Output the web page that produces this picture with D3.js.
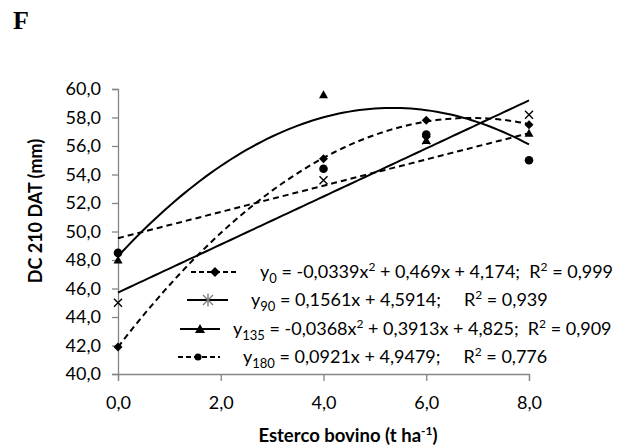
<!DOCTYPE html>
<html>
<head>
<meta charset="utf-8">
<script src="https://cdn.jsdelivr.net/npm/d3@7"></script>
<style>
  html, body { margin: 0; padding: 0; background: #fff; }
  svg { display: block; }
  text { font-family: Lato, "Open Sans", sans-serif; fill: #000; }
</style>
</head>
<body>
<svg id="chart" width="618" height="446"></svg>
<script>
// ---------- data ----------
const doses = [0, 4, 6, 8];
const y0Values   = [41.9, 55.1, 57.8, 57.5];
const y90Values  = [45.0, 53.6, 56.4, 58.2];
const y135Values = [48.0, 59.6, 56.4, 56.9];
const y180Values = [48.5, 54.4, 56.8, 55.0];

// trendline type (polynomial degree) per series, as in the chart
const trendDegrees = [2, 1, 2, 1];

const yTicks = [40, 42, 44, 46, 48, 50, 52, 54, 56, 58, 60];
const xTicks = [0, 2, 4, 6, 8];

const seriesSubs = ["0", "90", "135", "180"];
const eqParts = [
  [" = -0,0339x", "2", " + 0,469x + 4,174;  R", "2", " = 0,999"],
  [" = 0,1561x + 4,5914;     R", null, "", "2", " = 0,939"],
  [" = -0,0368x", "2", " + 0,3913x + 4,825;  R", "2", " = 0,909"],
  [" = 0,0921x + 4,9479;     R", null, "", "2", " = 0,776"]
];

// ---------- least-squares polynomial trendline ----------
function polyFit(xv, yv, deg) {
  const n = deg + 1;
  const A = Array.from({ length: n }, () => new Array(n + 1).fill(0));
  for (let r = 0; r < n; r++) {
    for (let c = 0; c < n; c++) A[r][c] = d3.sum(xv, v => Math.pow(v, r + c));
    A[r][n] = d3.sum(xv, (v, i) => yv[i] * Math.pow(v, r));
  }
  for (let i = 0; i < n; i++) {
    let p = i;
    for (let k = i + 1; k < n; k++) if (Math.abs(A[k][i]) > Math.abs(A[p][i])) p = k;
    [A[i], A[p]] = [A[p], A[i]];
    for (let k = 0; k < n; k++) {
      if (k === i) continue;
      const f = A[k][i] / A[i][i];
      for (let c = i; c <= n; c++) A[k][c] -= f * A[i][c];
    }
  }
  const coef = A.map((row, i) => row[n] / row[i]);
  return t => coef.reduce((s, c, i) => s + c * Math.pow(t, i), 0);
}

// ---------- drawing ----------
const svg = d3.select("#chart");
const x = d3.scaleLinear().domain([0, 8]).range([118, 529]);
const y = d3.scaleLinear().domain([40, 60]).range([374, 89]);
const fmt = d => d.toFixed(1).replace(".", ",");

// title
svg.append("text").attr("x", 13).attr("y", 29)
  .style("font-family", "'Liberation Serif', 'Times New Roman', serif")
  .style("font-weight", "bold").style("font-size", "26px").text("F");

// axes
const axisColor = "#868686";
const gy = svg.append("g").attr("transform", `translate(${x(0)},0)`)
  .call(d3.axisLeft(y).tickValues(yTicks).tickFormat(fmt).tickSize(6).tickPadding(11));
const gx = svg.append("g").attr("transform", `translate(0,${y(40)})`)
  .call(d3.axisBottom(x).tickValues(xTicks).tickFormat(fmt).tickSize(7).tickPadding(15));
[gx, gy].forEach(g => {
  g.select(".domain").attr("stroke", axisColor).attr("stroke-width", 1.3);
  g.selectAll(".tick line").attr("stroke", axisColor).attr("stroke-width", 1.3);
  g.selectAll(".tick text").style("font-size", "18px").style("font-family", "Lato, sans-serif").attr("fill", "#000");
});

// axis titles
svg.append("text")
  .attr("transform", "translate(42,211) rotate(-90)")
  .attr("text-anchor", "middle")
  .style("font-weight", "bold").style("font-size", "18px")
  .text("DC 210 DAT (mm)");
const xt = svg.append("text").attr("x", 348).attr("y", 442).attr("text-anchor", "middle")
  .style("font-weight", "bold").style("font-size", "18.5px");
xt.append("tspan").text("Esterco bovino (t ha");
xt.append("tspan").attr("dy", -7).style("font-size", "12px").text("-1");
xt.append("tspan").attr("dy", 7).text(")");

// trendlines (fitted to the plotted points)
const allSeries = [y0Values, y90Values, y135Values, y180Values];
const dashes = ["6,4", null, null, "6,4"];
const xs = d3.range(0, 8.0001, 0.1);
const line = d3.line().x(d => x(d[0])).y(d => y(d[1]));
allSeries.forEach((vals, i) => {
  const f = polyFit(doses, vals, trendDegrees[i]);
  svg.append("path").datum(xs.map(v => [v, f(v)]))
    .attr("d", line).attr("fill", "none").attr("stroke", "#000")
    .attr("stroke-width", 2).attr("stroke-dasharray", dashes[i]);
});

// markers
const drawMarker = (g, type, cx, cy, s, color) => {
  color = color || "#000";
  if (type === "diamond") {
    g.append("path").attr("d", `M${cx},${cy - s}L${cx + s},${cy}L${cx},${cy + s}L${cx - s},${cy}Z`).attr("fill", color);
  } else if (type === "x") {
    g.append("path").attr("d", `M${cx - s},${cy - s}L${cx + s},${cy + s}M${cx - s},${cy + s}L${cx + s},${cy - s}`)
      .attr("stroke", color).attr("stroke-width", 1.4);
  } else if (type === "asterisk") {
    g.append("path").attr("d", `M${cx - s},${cy - s}L${cx + s},${cy + s}M${cx - s},${cy + s}L${cx + s},${cy - s}M${cx},${cy - s * 1.3}L${cx},${cy + s * 1.3}`)
      .attr("stroke", color).attr("stroke-width", 1.4);
  } else if (type === "triangle") {
    g.append("path").attr("d", `M${cx},${cy - s}L${cx + s},${cy + s * 0.8}L${cx - s},${cy + s * 0.8}Z`).attr("fill", color);
  } else if (type === "circle") {
    g.append("circle").attr("cx", cx).attr("cy", cy).attr("r", s).attr("fill", color);
  }
};
const pts = svg.append("g");
const seriesDefs = [
  { vals: y0Values,   m: "diamond",  s: 4.5 },
  { vals: y90Values,  m: "x",        s: 4 },
  { vals: y135Values, m: "triangle", s: 4.5 },
  { vals: y180Values, m: "circle",   s: 4.3 }
];
seriesDefs.forEach(sd => {
  sd.vals.forEach((v, i) => drawMarker(pts, sd.m, x(doses[i]), y(v), sd.s));
});

// legend
const legRows = [
  { y: 272, lx1: 191, lx2: 236, mx: 215, tx: 260, m: "diamond", s: 5,   dash: "5,3", color: "#000" },
  { y: 300, lx1: 187, lx2: 228, mx: 208, tx: 251, m: "asterisk", s: 5,  dash: null,  color: "#7f7f7f" },
  { y: 329, lx1: 180, lx2: 220, mx: 200, tx: 233, m: "triangle", s: 5,  dash: null,  color: "#000" },
  { y: 357, lx1: 178, lx2: 220, mx: 198, tx: 243, m: "circle",  s: 3.5, dash: "5,3", color: "#000" }
];
const leg = svg.append("g");
legRows.forEach((r, i) => {
  leg.append("line").attr("x1", r.lx1).attr("x2", r.lx2).attr("y1", r.y).attr("y2", r.y)
    .attr("stroke", "#000").attr("stroke-width", 2).attr("stroke-dasharray", r.dash);
  drawMarker(leg, r.m, r.mx, r.y, r.s, r.color);
  const t = leg.append("text").attr("x", r.tx).attr("y", r.y + 6)
    .style("font-size", "18px").style("white-space", "pre");
  t.append("tspan").text("y");
  t.append("tspan").attr("dy", 5).style("font-size", "13px").text(seriesSubs[i]);
  const p = eqParts[i];
  t.append("tspan").attr("dy", -5).text(p[0]);
  if (p[1]) {
    t.append("tspan").attr("dy", -7).style("font-size", "12px").text(p[1]);
    t.append("tspan").attr("dy", 7).text(p[2]);
  } else {
    t.append("tspan").text(p[2]);
  }
  t.append("tspan").attr("dy", -7).style("font-size", "12px").text(p[3]);
  t.append("tspan").attr("dy", 7).text(p[4]);
});
</script>
</body>
</html>
